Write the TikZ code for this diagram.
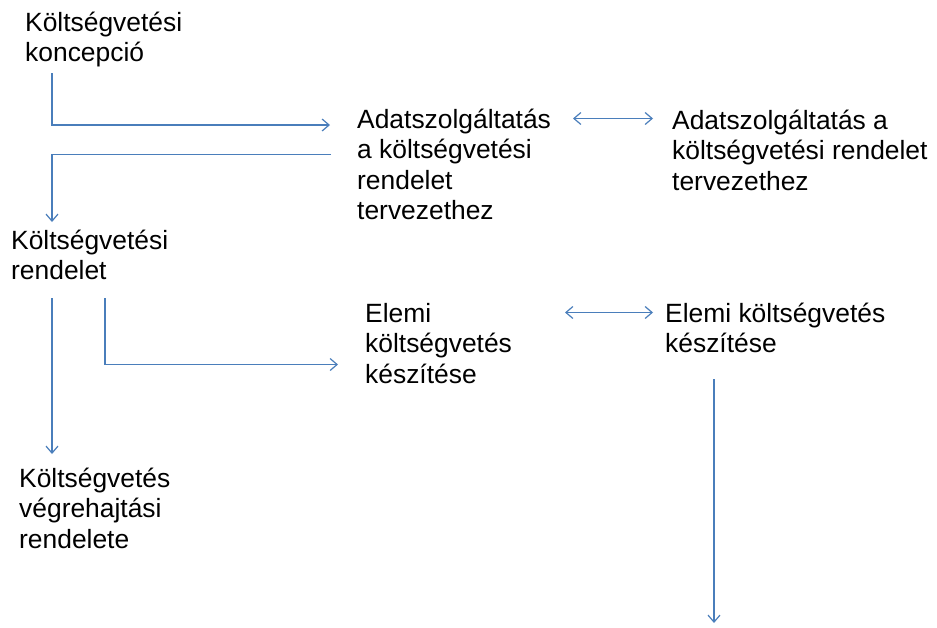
\documentclass[tikz,border=0pt]{standalone}
\usepackage{fontspec}
\setmainfont{Liberation Sans}
\usetikzlibrary{arrows.meta}
\definecolor{lineblue}{HTML}{4A7EBB}
\tikzset{
  lbl/.style={anchor=base west, inner sep=0pt, align=left, font=\fontsize{26.4}{30.5}\selectfont},
  conn/.style={draw=lineblue, line width=1.2pt, -{Straight Barb[length=7pt,width=12pt]}},
  bidir/.style={draw=lineblue, line width=1.2pt, {Straight Barb[length=7pt,width=12pt]}-{Straight Barb[length=7pt,width=12pt]}},
}
\begin{document}
\begin{tikzpicture}[x=1pt,y=-1pt]
\useasboundingbox (0,0) rectangle (937,627);
% anchors are at the baseline of the last line
\node[lbl] (koncepcio) at (25,61.5) {Költségvetési\\koncepció};
\node[lbl] (adat1) at (357,219.5) {Adatszolgáltatás\\a költségvetési\\rendelet\\tervezethez};
\node[lbl] (adat2) at (672,190) {Adatszolgáltatás a\\költségvetési rendelet\\tervezethez};
\node[lbl] (rendelet) at (11,279.5) {Költségvetési\\rendelet};
\node[lbl] (elemi1) at (365,383) {Elemi\\költségvetés\\készítése};
\node[lbl] (elemi2) at (665,352.5) {Elemi költségvetés\\készítése};
\node[lbl] (vegreh) at (19,548) {Költségvetés\\végrehajtási\\rendelete};

\coordinate (c1s) at (52,73);
\coordinate (c1e) at (330,125);
\coordinate (c2s) at (331,154.5);
\coordinate (c2e) at (52,222);
\coordinate (c3s) at (52,298);
\coordinate (c3e) at (52,454);
\coordinate (c4s) at (105,298);
\coordinate (c4e) at (338,364.5);
\coordinate (d1s) at (573,118.5);
\coordinate (d1e) at (653,118.5);
\coordinate (d2s) at (565,312.5);
\coordinate (d2e) at (653,312.5);
\coordinate (c5s) at (714,379);
\coordinate (c5e) at (714,623);

\draw[conn] (c1s) |- (c1e);
\draw[conn] (c2s) -| (c2e);
\draw[conn] (c3s) -- (c3e);
\draw[conn] (c4s) |- (c4e);
\draw[bidir] (d1s) -- (d1e);
\draw[bidir] (d2s) -- (d2e);
\draw[conn] (c5s) -- (c5e);
\end{tikzpicture}
\end{document}
